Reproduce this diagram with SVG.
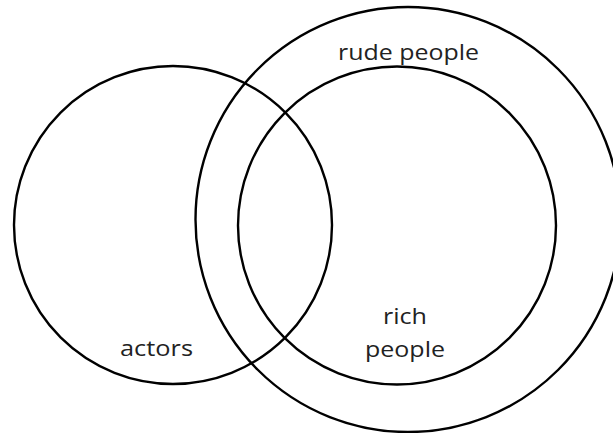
<svg xmlns="http://www.w3.org/2000/svg" width="613" height="433" viewBox="0 0 613 433">
<style>
.c{fill:none;stroke:#000;stroke-width:2.4}
.t{font-family:"Open Sans","Liberation Sans",sans-serif;font-size:22px;fill:#222;text-anchor:middle}
</style>
<rect width="613" height="433" fill="#fff"/>
<g id="actors"><circle class="c" cx="173" cy="225" r="159"/><text class="t" x="156.5" y="356" textLength="73" lengthAdjust="spacingAndGlyphs">actors</text></g>
<g id="rude-people"><circle class="c" cx="408" cy="219.5" r="212.5"/><text class="t" x="408.5" y="60" textLength="141" lengthAdjust="spacingAndGlyphs">rude people</text></g>
<g id="rich-people"><circle class="c" cx="397" cy="225.5" r="159"/><text class="t" x="405" y="324" textLength="44" lengthAdjust="spacingAndGlyphs">rich</text><text class="t" x="405" y="357" textLength="80" lengthAdjust="spacingAndGlyphs">people</text></g>
<g id="connectors"/>
</svg>
